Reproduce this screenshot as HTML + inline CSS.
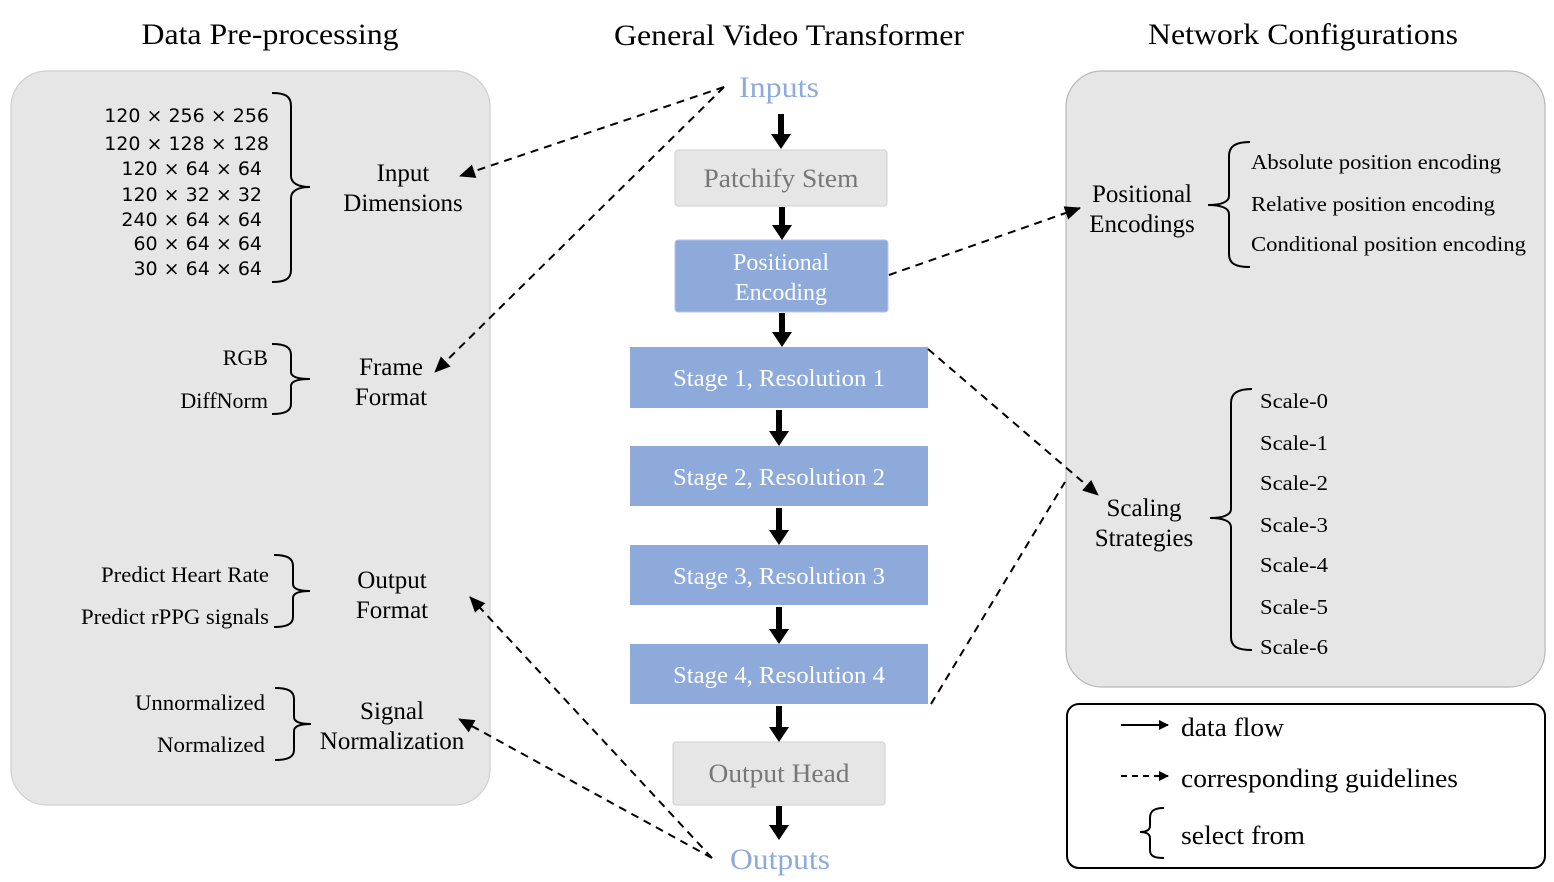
<!DOCTYPE html>
<html><head><meta charset="utf-8"><style>
html,body{margin:0;padding:0;background:#fff;}
svg{display:block;}
text{font-family:"Liberation Serif",serif;}
.s{font-family:"DejaVu Sans","Liberation Sans",sans-serif;}
</style></head><body>
<svg width="1554" height="882" viewBox="0 0 1554 882" xmlns="http://www.w3.org/2000/svg">
<defs>
<marker id="ah" markerWidth="10" markerHeight="10" refX="9" refY="5" orient="auto" markerUnits="userSpaceOnUse"><path d="M0,0 L10,5 L0,10 Z" fill="#000"/></marker>
<marker id="ah2" markerWidth="16" markerHeight="14" refX="15" refY="7" orient="auto" markerUnits="userSpaceOnUse"><path d="M0,0 L16,7 L0,14 Z" fill="#000"/></marker>
</defs>
<text x="270" y="44" font-size="30" text-anchor="middle" textLength="257" lengthAdjust="spacingAndGlyphs">Data Pre-processing</text>
<text x="789" y="45" font-size="30" text-anchor="middle" textLength="350" lengthAdjust="spacingAndGlyphs">General Video Transformer</text>
<text x="1303" y="44" font-size="30" text-anchor="middle" textLength="310" lengthAdjust="spacingAndGlyphs">Network Configurations</text>

<rect x="11" y="71" width="479" height="734" rx="36" fill="#e6e6e6" stroke="#cfcfd6" stroke-width="1.2"/>
<rect x="1066" y="71" width="479" height="616" rx="36" fill="#e6e6e6" stroke="#b8b8b8" stroke-width="1.2"/>
<rect x="1067" y="704" width="478" height="164" rx="12" fill="#fff" stroke="#000" stroke-width="2"/>

<g font-size="19" text-anchor="end">
<text x="269" y="122" class="s">120 × 256 × 256</text>
<text x="269" y="150" class="s">120 × 128 × 128</text>
<text x="262" y="175" class="s">120 × 64 × 64</text>
<text x="262" y="201" class="s">120 × 32 × 32</text>
<text x="262" y="226" class="s">240 × 64 × 64</text>
<text x="262" y="250" class="s">60 × 64 × 64</text>
<text x="262" y="275" class="s">30 × 64 × 64</text>
</g>
<g font-size="22" text-anchor="end">
<text x="268" y="365">RGB</text>
<text x="268" y="408">DiffNorm</text>
<text x="269" y="582" textLength="168" lengthAdjust="spacingAndGlyphs">Predict Heart Rate</text>
<text x="269" y="624" textLength="188" lengthAdjust="spacingAndGlyphs">Predict rPPG signals</text>
<text x="265" y="710" textLength="130" lengthAdjust="spacingAndGlyphs">Unnormalized</text>
<text x="265" y="752" textLength="108" lengthAdjust="spacingAndGlyphs">Normalized</text>
</g>
<g font-size="25" text-anchor="middle">
<text x="403" y="181">Input</text><text x="403" y="211">Dimensions</text>
<text x="391" y="375">Frame</text><text x="391" y="405">Format</text>
<text x="392" y="588">Output</text><text x="392" y="618">Format</text>
<text x="392" y="719">Signal</text><text x="392" y="749">Normalization</text>
</g>
<g fill="none" stroke="#000" stroke-width="2">
<path d="M272,93 C285,93 291,96 291,106 L291,176 C291,183 298,187 310,187 C298,187 291,191 291,198 L291,270 C291,279 285,282 272,282"/>
<path d="M272,344 C285,344 291,347 291,355 L291,372 C291,377 298,379 310,379 C298,379 291,381 291,386 L291,404 C291,411 285,414 272,414"/>
<path d="M274,555 C287,555 293,558 293,566 L293,584 C293,589 300,591 310,591 C300,591 293,593 293,598 L293,617 C293,624 287,627 274,627"/>
<path d="M275,688 C288,688 294,691 294,699 L294,717 C294,722 301,724 311,724 C301,724 294,726 294,731 L294,750 C294,757 288,760 275,760"/>
<path d="M1250,142 C1236,142 1229,146 1229,156 L1229,196 C1229,202 1221,205 1208,205 C1221,205 1229,208 1229,214 L1229,254 C1229,264 1236,267 1250,267"/>
<path d="M1252,389 C1238,389 1231,393 1231,403 L1231,509 C1231,515 1223,518 1210,518 C1223,518 1231,521 1231,527 L1231,637 C1231,647 1238,650 1252,650"/>
<path d="M1164,808 C1154,808 1150,811 1150,818 L1150,826 C1150,830 1146,832 1140,832 C1146,832 1150,834 1150,838 L1150,850 C1150,856 1154,858 1164,858"/>
</g>

<g font-size="25" text-anchor="middle">
<text x="1142" y="202">Positional</text><text x="1142" y="232">Encodings</text>
<text x="1144" y="516">Scaling</text><text x="1144" y="546">Strategies</text>
</g>
<g font-size="21">
<text x="1251" y="169" textLength="250" lengthAdjust="spacingAndGlyphs">Absolute position encoding</text>
<text x="1251" y="211" textLength="244" lengthAdjust="spacingAndGlyphs">Relative position encoding</text>
<text x="1251" y="251" textLength="275" lengthAdjust="spacingAndGlyphs">Conditional position encoding</text>
<text x="1260" y="408" textLength="68" lengthAdjust="spacingAndGlyphs">Scale-0</text>
<text x="1260" y="450" textLength="68" lengthAdjust="spacingAndGlyphs">Scale-1</text>
<text x="1260" y="490" textLength="68" lengthAdjust="spacingAndGlyphs">Scale-2</text>
<text x="1260" y="532" textLength="68" lengthAdjust="spacingAndGlyphs">Scale-3</text>
<text x="1260" y="572" textLength="68" lengthAdjust="spacingAndGlyphs">Scale-4</text>
<text x="1260" y="614" textLength="68" lengthAdjust="spacingAndGlyphs">Scale-5</text>
<text x="1260" y="654" textLength="68" lengthAdjust="spacingAndGlyphs">Scale-6</text>
</g>

<line x1="1121" y1="725" x2="1168" y2="725" stroke="#000" stroke-width="2" marker-end="url(#ah)"/>
<line x1="1121" y1="776" x2="1168" y2="776" stroke="#000" stroke-width="2" stroke-dasharray="6,5" marker-end="url(#ah)"/>
<g font-size="26">
<text x="1181" y="736" textLength="103" lengthAdjust="spacingAndGlyphs">data flow</text>
<text x="1181" y="787" textLength="277" lengthAdjust="spacingAndGlyphs">corresponding guidelines</text>
<text x="1181" y="844" textLength="124" lengthAdjust="spacingAndGlyphs">select from</text>
</g>

<text x="779" y="97" font-size="30" fill="#8eaadb" text-anchor="middle" textLength="80" lengthAdjust="spacingAndGlyphs">Inputs</text>
<rect x="675" y="150" width="212" height="56" rx="3" fill="#e6e6e6" stroke="#cfcfd6"/>
<text x="781" y="187" font-size="26" fill="#777" text-anchor="middle" textLength="155" lengthAdjust="spacingAndGlyphs">Patchify Stem</text>
<rect x="675" y="240" width="213" height="72" rx="3" fill="#8eaadb" stroke="#b5c5e6"/>
<text x="781" y="270" font-size="24" fill="#fff" text-anchor="middle">Positional</text>
<text x="781" y="300" font-size="24" fill="#fff" text-anchor="middle">Encoding</text>
<g fill="#8eaadb">
<rect x="630" y="347" width="298" height="61"/>
<rect x="630" y="446" width="298" height="60"/>
<rect x="630" y="545" width="298" height="60"/>
<rect x="630" y="644" width="298" height="60"/>
</g>
<g font-size="24" fill="#fff" text-anchor="middle">
<text x="779" y="386" textLength="212" lengthAdjust="spacingAndGlyphs">Stage 1, Resolution 1</text>
<text x="779" y="485" textLength="212" lengthAdjust="spacingAndGlyphs">Stage 2, Resolution 2</text>
<text x="779" y="584" textLength="212" lengthAdjust="spacingAndGlyphs">Stage 3, Resolution 3</text>
<text x="779" y="683" textLength="212" lengthAdjust="spacingAndGlyphs">Stage 4, Resolution 4</text>
</g>
<rect x="673" y="742" width="212" height="63" rx="3" fill="#e6e6e6" stroke="#cfcfd6"/>
<text x="779" y="782" font-size="26" fill="#777" text-anchor="middle" textLength="141" lengthAdjust="spacingAndGlyphs">Output Head</text>
<text x="780" y="869" font-size="30" fill="#8eaadb" text-anchor="middle" textLength="100" lengthAdjust="spacingAndGlyphs">Outputs</text>

<g fill="#000">
<path d="M778,114 h6 v20 h7 l-10,15 l-10,-15 h7 z"/>
<path d="M779,207 h6 v18 h7 l-10,15 l-10,-15 h7 z"/>
<path d="M779,313 h6 v19 h7 l-10,15 l-10,-15 h7 z"/>
<path d="M776,410 h6 v21 h7 l-10,15 l-10,-15 h7 z"/>
<path d="M776,508 h6 v22 h7 l-10,15 l-10,-15 h7 z"/>
<path d="M776,607 h6 v22 h7 l-10,15 l-10,-15 h7 z"/>
<path d="M776,706 h6 v21 h7 l-10,15 l-10,-15 h7 z"/>
<path d="M776,806 h6 v19 h7 l-10,15 l-10,-15 h7 z"/>
</g>

<g fill="none" stroke="#000" stroke-width="2" stroke-dasharray="8,6">
<line x1="724" y1="87" x2="460" y2="176" marker-end="url(#ah2)"/>
<line x1="724" y1="87" x2="435" y2="372" marker-end="url(#ah2)"/>
<line x1="889" y1="275" x2="1080" y2="208" marker-end="url(#ah2)"/>
<line x1="928" y1="349" x2="1098" y2="495" marker-end="url(#ah2)"/>
<line x1="931" y1="704" x2="1065" y2="482"/>
<line x1="712" y1="858" x2="470" y2="597" marker-end="url(#ah2)"/>
<line x1="712" y1="858" x2="459" y2="719" marker-end="url(#ah2)"/>
</g>
</svg>
</body></html>
